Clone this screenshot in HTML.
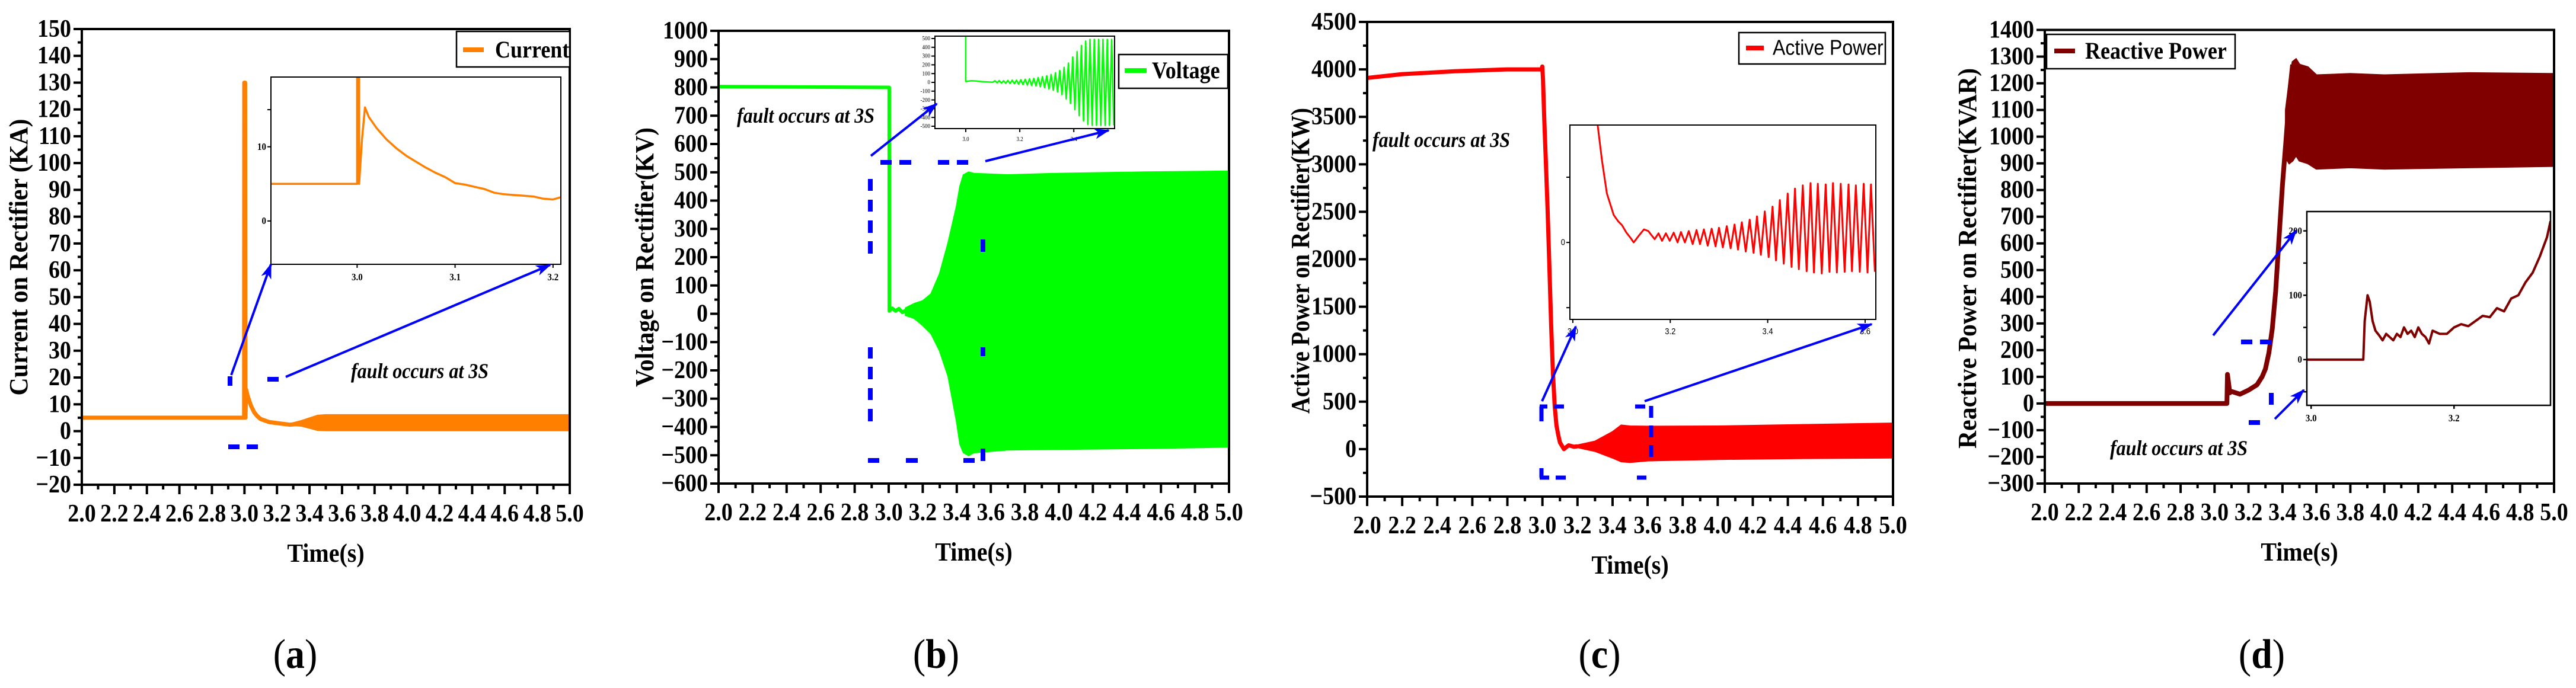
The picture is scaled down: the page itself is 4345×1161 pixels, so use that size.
<!DOCTYPE html>
<html><head><meta charset="utf-8"><title>Rectifier fault response</title>
<style>
html,body{margin:0;padding:0;background:#fff;}
svg{display:block;}
</style></head>
<body>
<svg id="fig" xmlns="http://www.w3.org/2000/svg" width="4345" height="1161" viewBox="0 0 4345 1161">
<defs>
<marker id="arr" markerUnits="userSpaceOnUse" markerWidth="26" markerHeight="18" refX="24" refY="9" orient="auto"><path d="M0,0 L26,9 L0,18 L7,9 Z" fill="#0000FF"/></marker>
</defs>
</svg>
<script>
// ---------- shared axis data ----------
const xTickVals = [2.0,2.2,2.4,2.6,2.8,3.0,3.2,3.4,3.6,3.8,4.0,4.2,4.4,4.6,4.8,5.0];
const xTickLabels = ['2.0','2.2','2.4','2.6','2.8','3.0','3.2','3.4','3.6','3.8','4.0','4.2','4.4','4.6','4.8','5.0'];
// ---------- (a) current ----------
const aYTicks = [-20,-10,0,10,20,30,40,50,60,70,80,90,100,110,120,130,140,150];
const aTime = [2.0,2.998,2.999,3.004,3.006,3.01,3.02,3.04,3.06,3.08,3.1,3.15,3.2,3.28,3.35,3.42];
const aCurrent = [5,5,130,130,5,15.5,13,9.5,7,5.5,4.5,3.4,3,2.4,2.8,3.5];
const aBandT = [3.3,3.35,3.4,3.45,3.5,4.0,4.5,5.0];
const aBandHi = [3,3.8,4.8,5.8,6,6,6,6];
const aBandLo = [2.2,2,1.2,0.4,0.3,0.3,0.3,0.3];
const aInsT = [2.912,3.0,3.0,3.002,3.002,3.005,3.008,3.012,3.02,3.03,3.04,3.05,3.06,3.07,3.08,3.09,3.1,3.11,3.12,3.13,3.14,3.15,3.16,3.17,3.18,3.19,3.2,3.208];
const aInsV = [5,5,25,25,5,11,15.3,14,12.5,11,9.8,8.8,8,7.2,6.5,5.9,5.1,4.9,4.6,4.3,3.8,3.6,3.5,3.4,3.3,3,2.9,3.2];
// ---------- (b) voltage ----------
const bYTicks = [-600,-500,-400,-300,-200,-100,0,100,200,300,400,500,600,700,800,900,1000];
const bTime = [2.0,3.003,3.004,3.02,3.04,3.06,3.08,3.1];
const bVoltage = [803,800,10,20,10,18,5,12];
const bBandT = [3.1,3.15,3.2,3.25,3.3,3.35,3.4,3.42,3.44,3.47,3.5,3.7,4.0,4.5,5.0];
const bBandHi = [20,35,45,70,140,250,380,450,490,500,495,490,495,500,503];
const bBandLo = [-5,-15,-40,-70,-130,-220,-380,-460,-490,-500,-490,-480,-478,-475,-470];
const bInsYTicks = [-500,-400,-300,-200,-100,0,100,200,300,400,500];
const bInsT = [2.886,3.0,3.0,3.02,3.04,3.06,3.08,3.1,3.108,3.116,3.124,3.132,3.140,3.148,3.156,3.164,3.172,3.180,3.188,3.196,3.204,3.212,3.220,3.228,3.236,3.244,3.252,3.260,3.268,3.276,3.284,3.292,3.300,3.308,3.316,3.324,3.332,3.340,3.348,3.356,3.364,3.372,3.380,3.388,3.396,3.404,3.412,3.420,3.428,3.436,3.444,3.452,3.460,3.468,3.476,3.484,3.492,3.500,3.508,3.516,3.524,3.532,3.540,3.548];
const bInsV = [800,800,10,18,15,8,5,2,18,-5,20,-8,18,-10,22,-12,25,-15,25,-20,30,-25,35,-30,40,-35,45,-40,55,-50,65,-60,75,-75,90,-90,110,-110,135,-140,170,-190,220,-240,290,-310,350,-380,420,-440,470,-480,490,-490,490,-490,490,-490,490,-490,490,-490,490,-490];
// ---------- (c) active power ----------
const cYTicks = [-500,0,500,1000,1500,2000,2500,3000,3500,4000,4500];
const cTime = [2.0,2.2,2.5,2.8,2.995,2.999,3.003,3.01,3.02,3.03,3.04,3.05,3.06,3.07,3.08,3.09,3.1,3.123,3.135,3.15,3.18,3.2];
const cPower = [3910,3950,3980,4000,4000,4030,3900,3500,3000,2500,1900,1300,800,450,250,150,70,0,20,40,25,30];
const cBandT = [3.2,3.3,3.4,3.45,3.5,3.6,4.0,4.5,5.0];
const cBandHi = [40,80,180,250,240,237,240,255,270];
const cBandLo = [20,-20,-90,-130,-137,-120,-105,-95,-90];
const cInsT = [2.994,3.051,3.06,3.07,3.084,3.093,3.101,3.11,3.118,3.125,3.135,3.146,3.155,3.160,3.168,3.176,3.183,3.191,3.199,3.207,3.215,3.222,3.230,3.238,3.246,3.254,3.261,3.269,3.277,3.285,3.293,3.300,3.308,3.316,3.324,3.332,3.339,3.347,3.355,3.363,3.371,3.378,3.386,3.394,3.402,3.410,3.417,3.425,3.433,3.441,3.449,3.456,3.464,3.472,3.480,3.488,3.495,3.503,3.511,3.519,3.527,3.534,3.542,3.550,3.558,3.566,3.573,3.581,3.589,3.597,3.605,3.612,3.620];
const cInsV = [600,360,250,150,84,65,53,30,15,0,20,40,35,25,10,28,5,28,5,30,0,32,0,35,-5,38,-5,40,-10,42,-12,45,-15,50,-18,55,-22,62,-28,70,-32,80,-38,95,-45,110,-55,130,-65,150,-75,165,-82,175,-88,182,-92,180,-95,178,-90,182,-92,180,-90,178,-88,175,-90,180,-92,178,-90];
// ---------- (d) reactive power ----------
const dYTicks = [-300,-200,-100,0,100,200,300,400,500,600,700,800,900,1000,1100,1200,1300,1400];
const dTime = [2.0,3.073,3.076,3.08,3.09,3.1,3.15,3.2,3.25,3.28,3.3,3.32,3.34,3.36,3.38,3.4,3.42,3.44,3.46];
const dReactive = [0,0,109,90,40,45,35,50,70,100,130,190,280,420,620,820,980,1150,1270];
const dBandT = [3.42,3.44,3.46,3.48,3.5,3.55,3.6,3.8,4.0,4.5,5.0];
const dBandHi = [1100,1200,1280,1290,1270,1260,1230,1235,1230,1238,1235];
const dBandLo = [920,900,910,930,910,900,880,885,880,885,890];
const dInsT = [2.994,3.073,3.075,3.079,3.082,3.086,3.09,3.095,3.1,3.105,3.11,3.115,3.12,3.125,3.13,3.135,3.14,3.145,3.15,3.155,3.16,3.165,3.17,3.18,3.19,3.2,3.21,3.22,3.23,3.24,3.25,3.26,3.27,3.28,3.29,3.3,3.31,3.32,3.33,3.335];
const dInsV = [0,0,60,100,90,60,45,38,30,40,35,30,40,35,50,40,45,35,50,40,35,25,45,40,40,50,55,52,60,68,66,80,75,95,100,120,135,160,190,215];

const NS = 'http://www.w3.org/2000/svg';
const SERIF = '"Liberation Serif", serif';
const svg = document.getElementById('fig');
function mk(tag, parent){ const e = document.createElementNS(NS, tag); parent.appendChild(e); return e; }
function set(e, k, v){ e.setAttribute(k, v); }
function scaler(d0, d1, p0, p1){ return v => p0 + (v - d0) / (d1 - d0) * (p1 - p0); }
function lineD(ts, vs, sx, sy){ return ts.map((t,i)=>(i?'L':'M')+sx(t).toFixed(1)+','+sy(vs[i]).toFixed(1)).join(''); }
function bandD(ts, hi, lo, sx, sy){
  let d = ts.map((t,i)=>(i?'L':'M')+sx(t).toFixed(1)+','+sy(hi[i]).toFixed(1)).join('');
  for (let i = ts.length-1; i >= 0; i--) d += 'L'+sx(ts[i]).toFixed(1)+','+sy(lo[i]).toFixed(1);
  return d + 'Z';
}
function stext(parent, str, x, y, size, anchor, weight, family, sy){
  const t = mk('text', parent);
  set(t, 'transform', 'translate('+x+','+y+') scale(1,'+(sy||1.12)+')');
  set(t, 'font-size', size);
  set(t, 'text-anchor', anchor);
  set(t, 'font-weight', weight);
  t.style.fontFamily = family || SERIF;
  t.textContent = str;
  return t;
}
function seg(parent, x1, y1, x2, y2, w, color){
  const l = mk('line', parent);
  set(l,'x1',x1); set(l,'y1',y1); set(l,'x2',x2); set(l,'y2',y2);
  set(l,'stroke',color); set(l,'stroke-width',w);
  return l;
}
let clipId = 0;
function clipRect(x0,y0,x1,y1){
  const defs = svg.querySelector('defs');
  const cp = mk('clipPath', defs); const id = 'cp'+(clipId++); set(cp,'id',id);
  const r = mk('rect', cp); set(r,'x',x0); set(r,'y',y0); set(r,'width',x1-x0); set(r,'height',y1-y0);
  return 'url(#'+id+')';
}

function drawPanel(p){
  const g = mk('g', svg);
  
  
  const sx = scaler(2.0, 5.0, p.x0, p.x1);
  const sy = scaler(p.ymin, p.ymax, p.y1, p.y0);
  const cp = clipRect(p.x0, p.y0, p.x1, p.y1);
  const sg = mk('g', g); set(sg, 'clip-path', cp);
  
  
  const band = mk('path', sg);
  
  
  set(band,'d', bandD(p.bt, p.bh, p.bl, sx, sy)); set(band,'fill',p.color); set(band,'stroke',p.color); set(band,'stroke-width',3);
  const ln = mk('path', sg);
  
  
  set(ln,'d', lineD(p.t, p.v, sx, sy)); set(ln,'fill','none'); set(ln,'stroke',p.color); set(ln,'stroke-width',p.lw); set(ln,'stroke-linejoin','round');
  const fr = mk('rect', g);
  
  
  set(fr,'x',p.x0); set(fr,'y',p.y0); set(fr,'width',p.x1-p.x0); set(fr,'height',p.y1-p.y0); set(fr,'fill','none'); set(fr,'stroke','#000'); set(fr,'stroke-width',4);
  const ya = mk('g', g);
  
  
  p.yt.forEach((v,i)=>{
    const y = sy(v);
    seg(ya, p.x0-14, y, p.x0, y, 4, '#000');
    if (i < p.yt.length-1){ const ym = sy((v + p.yt[i+1])/2); seg(ya, p.x0-7, ym, p.x0, ym, 4, '#000'); }
    const lab = stext(ya, String(v).replace('-','\u2212'), p.x0-18, y+13, 38, 'end', 'bold');
    
    
  });
  const xa = mk('g', g);
  
  
  xTickVals.forEach((v,i)=>{
    const x = sx(v);
    seg(xa, x, p.y1, x, p.y1+16, 4, '#000');
    if (i < xTickVals.length-1){ const xm = sx(v+0.1); seg(xa, xm, p.y1, xm, p.y1+8, 4, '#000'); }
    const lab = stext(xa, xTickLabels[i], x, p.y1+62, 38, 'middle', 'bold');
    
    
  });
  const xt = stext(g, 'Time(s)', (p.x0+p.x1)/2, p.y1+130, 40, 'middle', 'bold');
  
  
  const yt = mk('text', g);
  
  
  set(yt,'transform','translate('+(p.ylx+14)+','+p.yly+') rotate(-90)');
  set(yt,'font-size',44); set(yt,'font-weight','bold'); set(yt,'text-anchor','middle');
  yt.style.fontFamily = SERIF;
  set(yt,'textLength',p.yll); set(yt,'lengthAdjust','spacingAndGlyphs');
  yt.textContent = p.ylabel;
  const cap = stext(g, '', p.capx, 1127, 64, 'middle', 'normal', null, 1.1);
  
  
  const s1 = mk('tspan', cap); s1.textContent = '(';
  const s2 = mk('tspan', cap); s2.textContent = p.cap.slice(1,2); set(s2,'font-weight','bold');
  const s3 = mk('tspan', cap); s3.textContent = ')';
  return {g, sx, sy};
}

function drawInset(parent, q){
  const g = mk('g', parent);
  
  
  const bg = mk('rect', g);
  set(bg,'x',q.x0); set(bg,'y',q.y0); set(bg,'width',q.x1-q.x0); set(bg,'height',q.y1-q.y0); set(bg,'fill','#fff');
  const sx = scaler(q.xmin, q.xmax, q.x0, q.x1);
  const sy = scaler(q.ymin, q.ymax, q.y1, q.y0);
  const cp = clipRect(q.x0, q.y0, q.x1, q.y1);
  const ln = mk('path', g);
  
  
  set(ln,'clip-path',cp); set(ln,'d', lineD(q.t, q.v, sx, sy)); set(ln,'fill','none'); set(ln,'stroke',q.color); set(ln,'stroke-width',q.lw); set(ln,'stroke-linejoin','round');
  const fr = mk('rect', g);
  set(fr,'x',q.x0); set(fr,'y',q.y0); set(fr,'width',q.x1-q.x0); set(fr,'height',q.y1-q.y0); set(fr,'fill','none'); set(fr,'stroke','#000'); set(fr,'stroke-width',q.fw);
  q.xt.forEach(v=>{
    const x = sx(v);
    seg(g, x, q.y1, x, q.y1+6, q.fw, '#000');
    const lab = stext(g, v.toFixed(1), x, q.y1+q.fs+12, q.fs, 'middle', q.fwt, q.ff);
    
    
  });
  q.yt.forEach(v=>{
    const y = sy(v);
    seg(g, q.x0-6, y, q.x0, y, q.fw, '#000');
    const lab = stext(g, String(v), q.x0-8, y+q.fs*0.35, q.fs, 'end', q.fwt, q.ff);
    
    
  });
  (q.yminor||[]).forEach(v=>{ const y = sy(v); seg(g, q.x0-6, y, q.x0, y, q.fw, '#000'); });
  return g;
}

function legend(parent, key, x0, y0, x1, y1, color, label, lx0, lx1, ly, tx, fs, weight, family){
  const g = mk('g', parent);
  
  
  const r = mk('rect', g);
  set(r,'x',x0); set(r,'y',y0); set(r,'width',x1-x0); set(r,'height',y1-y0); set(r,'fill','#fff'); set(r,'stroke','#000'); set(r,'stroke-width',2.5);
  const sw = seg(g, lx0, ly, lx1, ly, 8, color);
  
  
  const t = stext(g, label, tx, ly + fs*0.36, fs, 'start', weight, family);
  
  
}
function note(parent, key, x, y, fs){
  const t = stext(parent, 'fault occurs at 3S', x, y, fs, 'start', 'bold', null, 1.12);
  
  
  set(t,'font-style','italic');
}
function arrow(parent, key, x1, y1, x2, y2){
  const l = seg(parent, x1, y1, x2, y2, 4, '#0000FF');
  
  
  set(l,'marker-end','url(#arr)');
}
function dashes(parent, key, list, w){
  const g = mk('g', parent);
  
  
  list.forEach(s=>seg(g, s[0], s[1], s[2], s[3], w, '#0000FF'));
}

// ===== Panel A =====
const A = drawPanel({name:'panel-a-current', key:'a', x0:138, x1:961, y0:49, y1:818, ymin:-20, ymax:150, yt:aYTicks,
  t:aTime, v:aCurrent, bt:aBandT, bh:aBandHi, bl:aBandLo, color:'#FF8000', lw:7,
  ylabel:'Current on Rectifier (KA)', ylx:32, yly:434, yll:467, cap:'(a)', capx:498});
drawInset(A.g, {key:'a', x0:457, x1:946, y0:130, y1:446, xmin:2.912, xmax:3.208, ymin:-5.84, ymax:19.4,
  t:aInsT, v:aInsV, color:'#FF8000', lw:3.5, fw:2, xt:[3.0,3.1,3.2], yt:[0,10], yminor:[15], fs:15, fwt:'bold', ff:null});
legend(A.g, 'a', 770, 53, 961, 113, '#FF8000', 'Current', 781, 816, 84, 835, 36, 'bold', null);
note(A.g, 'a', 592, 638, 32);
arrow(A.g, 'a', 390, 633, 457, 446);
arrow(A.g, 'a', 482, 636, 928, 447);
dashes(A.g, 'a', [[388,635,388,651],[451,640,470,640],[385,754,404,754],[416,754,435,754]], 8);

// ===== Panel B =====
const B = drawPanel({name:'panel-b-voltage', key:'b', x0:1212, x1:2073, y0:52, y1:816, ymin:-600, ymax:1000, yt:bYTicks,
  t:bTime, v:bVoltage, bt:bBandT, bh:bBandHi, bl:bBandLo, color:'#00FF00', lw:6,
  ylabel:'Voltage on Rectifier(KV)', ylx:1088, yly:434, yll:438, cap:'(b)', capx:1579});
drawInset(B.g, {key:'b', x0:1577, x1:1880, y0:61, y1:217, xmin:2.886, xmax:3.551, ymin:-527, ymax:527,
  t:bInsT, v:bInsV, color:'#00FF00', lw:2.5, fw:2, xt:[3.0,3.2,3.4], yt:bInsYTicks, fs:9, fwt:'normal', ff:null});
legend(B.g, 'b', 1887, 92, 2071, 149, '#00FF00', 'Voltage', 1897, 1934, 119, 1943, 36, 'bold', null);
note(B.g, 'b', 1243, 207, 32);
arrow(B.g, 'b', 1469, 263, 1580, 175);
arrow(B.g, 'b', 1662, 272, 1870, 220);
dashes(B.g, 'b', [
  [1485,274,1504,274],[1517,274,1537,274],[1582,274,1601,274],[1614,274,1633,274],
  [1464,777,1483,777],[1528,777,1548,777],[1625,777,1644,777],
  [1468,302,1468,322],[1468,337,1468,357],[1468,372,1468,393],[1468,407,1468,428],
  [1468,586,1468,605],[1468,619,1468,640],[1468,655,1468,675],[1468,690,1468,711],
  [1658,404,1658,425],[1658,586,1658,601],[1658,757,1658,778]], 8);

// ===== Panel C =====
const C = drawPanel({name:'panel-c-active-power', key:'c', x0:2306, x1:3193, y0:37, y1:838, ymin:-500, ymax:4500, yt:cYTicks,
  t:cTime, v:cPower, bt:cBandT, bh:cBandHi, bl:cBandLo, color:'#FF0000', lw:7,
  ylabel:'Active Power on Rectifier(KW)', ylx:2194, yly:440, yll:516, cap:'(c)', capx:2698});
drawInset(C.g, {key:'c', x0:2648, x1:3164, y0:211, y1:539, xmin:2.994, xmax:3.622, ymin:-236, ymax:360,
  t:cInsT, v:cInsV, color:'#FF0000', lw:3, fw:2, xt:[3.0,3.2,3.4,3.6], yt:[0], yminor:[200,-200], fs:13, fwt:'normal', ff:'"Liberation Sans", sans-serif'});
legend(C.g, 'c', 2933, 55, 3180, 108, '#FF0000', 'Active Power', 2945, 2975, 81, 2990, 32, 'normal', '"Liberation Sans", sans-serif');
note(C.g, 'c', 2315, 248, 32);
arrow(C.g, 'c', 2601, 677, 2658, 551);
arrow(C.g, 'c', 2774, 677, 3157, 547);
dashes(C.g, 'c', [
  [2597,686,2610,686],[2621,686,2638,686],[2758,686,2775,686],
  [2600,686,2600,711],[2600,790,2600,806],
  [2597,806,2613,806],[2624,806,2641,806],[2761,806,2777,806],
  [2785,685,2785,705],[2785,718,2785,738],[2785,751,2785,771]], 7);

// ===== Panel D =====
const D = drawPanel({name:'panel-d-reactive-power', key:'d', x0:3449, x1:4308, y0:50.5, y1:816, ymin:-300, ymax:1400, yt:dYTicks,
  t:dTime, v:dReactive, bt:dBandT, bh:dBandHi, bl:dBandLo, color:'#800000', lw:8,
  ylabel:'Reactive Power on Rectifier(KVAR)', ylx:3319, yly:436, yll:642, cap:'(d)', capx:3815});
drawInset(D.g, {key:'d', x0:3891, x1:4302, y0:357, y1:684, xmin:2.994, xmax:3.335, ymin:-71, ymax:230,
  t:dInsT, v:dInsV, color:'#800000', lw:4, fw:2.5, xt:[3.0,3.2], yt:[0,100,200], yminor:[-50,50,150], fs:15, fwt:'bold', ff:null});
legend(D.g, 'd', 3452, 58, 3770, 116, '#800000', 'Reactive Power', 3465, 3500, 86, 3517, 36, 'bold', null);
note(D.g, 'd', 3559, 768, 32);
arrow(D.g, 'd', 3733, 566, 3873, 389);
arrow(D.g, 'd', 3837, 707, 3886, 658);
dashes(D.g, 'd', [[3780,577,3799,577],[3812,577,3831,577],[3831,663,3831,683],[3793,713,3812,713]], 8);
</script>
</body></html>
